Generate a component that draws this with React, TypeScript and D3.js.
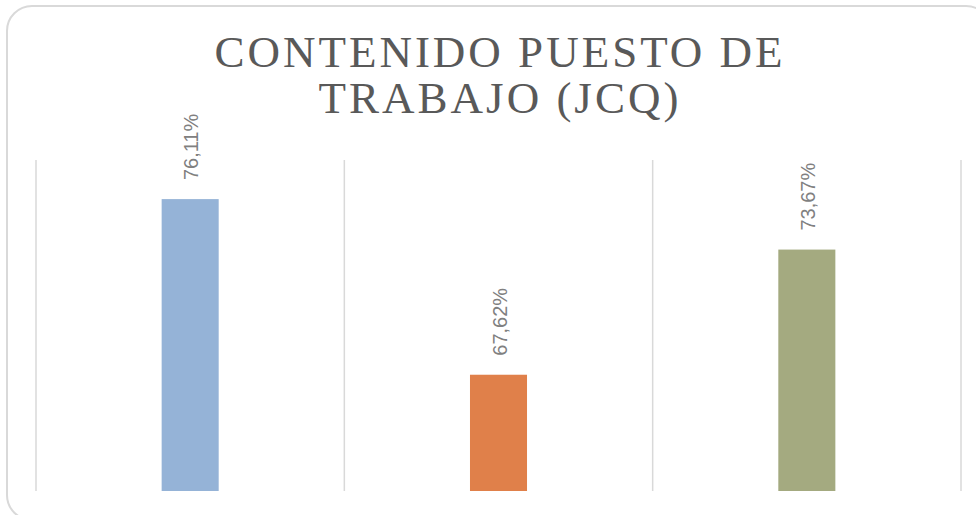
import React, { useEffect, useRef } from 'react';
import * as d3 from 'd3';

// datos del grafico
const categorias = ['Demandas psicológicas', 'Control', 'Apoyo social'];
const valores = [0.7611, 0.6762, 0.7367];
const colores = ['#95B3D7', '#E0804A', '#A4AA80'];
const tituloLineas = ['CONTENIDO PUESTO DE', 'TRABAJO (JCQ)'];
const ejeMin = 0.62;
const ejeMax = 0.78;

export default function App() {
  const svgRef = useRef<SVGSVGElement>(null);

  useEffect(() => {
    const width = 976;
    const height = 515;

    const svg = d3.select(svgRef.current);
    svg.selectAll('*').remove();
    svg.attr('width', width).attr('height', height);

    // marco redondeado
    svg.append('rect')
      .attr('x', 7)
      .attr('y', 6)
      .attr('width', 984)
      .attr('height', 514)
      .attr('rx', 25)
      .attr('fill', '#fff')
      .attr('stroke', '#d9d9d9')
      .attr('stroke-width', 2);

    // titulo
    svg.append('text')
      .attr('text-anchor', 'middle')
      .attr('font-family', '"Liberation Serif", serif')
      .attr('font-size', 45)
      .attr('letter-spacing', 3)
      .attr('fill', '#595959')
      .selectAll('tspan')
      .data(tituloLineas)
      .enter().append('tspan')
      .attr('x', 500)
      .attr('y', (d, i) => 67 + i * 46)
      .text(d => d);

    const x = d3.scaleBand<string>()
      .domain(categorias)
      .range([36, 961])
      .padding(0);

    const y = d3.scaleLinear()
      .domain([ejeMin, ejeMax])
      .range([491, 160]);

    // lineas verticales entre categorias
    const bordes = categorias.map(c => x(c) as number).concat([961]);
    svg.append('g')
      .selectAll('line')
      .data(bordes)
      .enter().append('line')
      .attr('x1', d => d)
      .attr('x2', d => d)
      .attr('y1', y(ejeMax))
      .attr('y2', y(ejeMin))
      .attr('stroke', '#d9d9d9')
      .attr('stroke-width', 1.5);

    const barW = x.bandwidth() * 0.185;
    const filas = categorias.map((c, i) => ({ cat: c, val: valores[i], color: colores[i] }));

    svg.append('g')
      .selectAll('rect')
      .data(filas)
      .enter().append('rect')
      .attr('x', d => (x(d.cat) as number) + x.bandwidth() / 2 - barW / 2)
      .attr('y', d => y(d.val))
      .attr('width', barW)
      .attr('height', d => y(ejeMin) - y(d.val))
      .attr('fill', d => d.color);

    // etiquetas rotadas
    const fmt = (v: number) => (v * 100).toFixed(2).replace('.', ',') + '%';
    svg.append('g')
      .selectAll('text')
      .data(filas)
      .enter().append('text')
      .attr('transform', d => {
        const cx = (x(d.cat) as number) + x.bandwidth() / 2 + 8;
        return `translate(${cx},${y(d.val) - 19}) rotate(-90)`;
      })
      .attr('font-family', '"Liberation Sans", Arial, sans-serif')
      .attr('font-size', 20)
      .attr('fill', '#808080')
      .text(d => fmt(d.val));
  }, []);

  return (
    <svg ref={svgRef} style={{ position: 'absolute', left: 0, top: 0, display: 'block' }}></svg>
  );
}
